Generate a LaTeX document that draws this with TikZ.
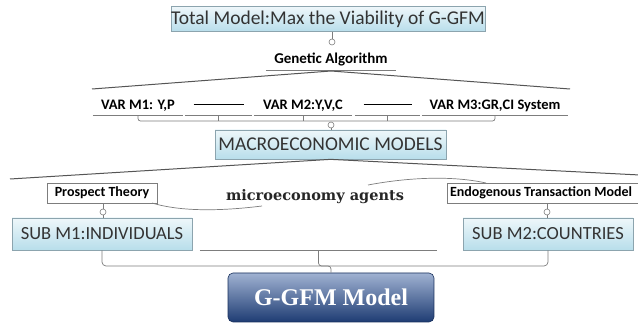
\documentclass[tikz,border=0pt]{standalone}
\usepackage{fontspec}
\setmainfont{Carlito}
\newfontfamily\slabfont{DejaVu Serif}
\newfontfamily\titleserif{Liberation Serif}
\definecolor{tTop}{RGB}{238,247,250}
\definecolor{tBot}{RGB}{184,222,235}
\definecolor{tBorder}{RGB}{140,164,174}
\definecolor{gTop}{RGB}{160,178,210}
\definecolor{gBot}{RGB}{30,60,115}
\definecolor{lineC}{RGB}{125,125,125}
\definecolor{fanC}{RGB}{85,85,85}
\tikzset{
  topic/.style={draw=tBorder, line width=0.7pt, top color=tTop, bottom color=tBot, inner sep=0pt, text=black!80},
  plainbox/.style={draw=lineC, line width=0.6pt, fill=white, inner sep=0pt, font=\bfseries\fontsize{14}{14}\selectfont, text=black},
  lbl/.style={inner sep=0pt, font=\bfseries\fontsize{14.5}{14.5}\selectfont, text=black},
  underl/.style={append after command={\pgfextra{\draw[conn] (\tikzlastnode.south west) -- (\tikzlastnode.south east);}}},
  conn/.style={draw=lineC, line width=0.7pt},
  fan/.style={draw=fanC, line width=1pt},
  dotc/.style={circle, draw=lineC, fill=white, line width=0.6pt, inner sep=0pt, minimum size=6pt},
}
\begin{document}
\begin{tikzpicture}[x=1pt,y=-1pt]
\useasboundingbox (0,0) rectangle (638,323);
\fill[white] (0,0) rectangle (638,323);

% top
\node[topic, minimum width=306, minimum height=25, font=\fontsize{19.5}{19.5}\selectfont] (total) at (328,19) {Total Model:Max the Viability of G-GFM};
\node[dotc] (c1) at (332,42) {};
\draw[conn] (total.south -| c1) -- (c1);
\node[lbl, underl, minimum width=130, minimum height=22, font=\bfseries\fontsize{15}{15}\selectfont] (ga) at (331,59) {Genetic Algorithm};

% fan 1
\coordinate (f1) at (331,71);
\coordinate (f1l) at (92,89);
\coordinate (f1r) at (570,89);
\draw[fan] (f1l) -- (f1) -- (f1r);

% VAR row
\node[lbl, underl, minimum width=90, minimum height=18] (v1) at (138,106) {VAR M1: Y,P};
\node[lbl, underl, minimum width=67, minimum height=18] (d1) at (218.5,106) {\rule[3pt]{50pt}{0.7pt}};
\node[lbl, underl, minimum width=98, minimum height=18] (v2) at (303,106) {VAR M2:Y,V,C};
\node[lbl, underl, minimum width=65, minimum height=18] (d2) at (387.5,106) {\rule[3pt]{48pt}{0.7pt}};
\node[lbl, underl, minimum width=146, minimum height=18] (v3) at (495,106) {VAR M3:GR,CI System};
\coordinate (b1) at (0,121);
\draw[conn, rounded corners=2.5] (v1.south) -- (v1.south |- b1) -- (v3.south |- b1) -- (v3.south);
\draw[conn] (d1.south) -- (d1.south |- b1);
\draw[conn] (v2.south) -- (v2.south |- b1);
\draw[conn] (d2.south) -- (d2.south |- b1);

% macro
\node[topic, minimum width=231, minimum height=29, font=\fontsize{19.5}{19.5}\selectfont] (macro) at (330.5,144.5) {MACROECONOMIC MODELS};
\node[dotc] (c2) at (331,125) {};
\draw[conn] (c2) -- (macro.north -| c2);

% fan 2
\coordinate (f2l) at (10,179);
\coordinate (f2r) at (640,175);
\draw[fan] (f2l) -- (macro.south) -- (f2r);

% side theories
\node[plainbox, minimum width=110, minimum height=20] (pt) at (102,193) {Prospect Theory};
\node[plainbox, minimum width=200, minimum height=20] (et) at (547,193) {\makebox[194pt][l]{Endogenous Transaction Model}};
\node[dotc] (c3) at (103,212) {};
\node[dotc] (c4) at (547,212) {};

% sub models
\node[topic, minimum width=180, minimum height=32, font=\fontsize{18.5}{18.5}\selectfont] (sub1) at (102,234) {SUB M1:INDIVIDUALS};
\node[topic, minimum width=170, minimum height=32, font=\fontsize{18.5}{18.5}\selectfont] (sub2) at (548,234) {SUB M2:COUNTRIES};
\draw[conn] (pt.south -| c3) -- (c3) -- (sub1.north -| c3);
\draw[conn] (et.south -| c4) -- (c4) -- (sub2.north -| c4);

% microeconomy agents relation
\node[inner sep=0pt, font=\slabfont\bfseries\fontsize{14.5}{14.5}\selectfont, text=black!85] (mic) at (315,197) {microeconomy agents};
\coordinate (r1) at (262,206);
\coordinate (r2) at (368,185);
\coordinate (r0) at (152,203);
\coordinate (r3) at (486,183);
\draw[conn] (r0) .. controls (185,213) and (230,210) .. (r1);
\draw[conn] (r2) .. controls (405,178) and (450,175) .. (r3);

% blank underline topic
\node[inner sep=0pt, minimum width=237, minimum height=0pt, underl] (blank) at (318.5,250) {};

% bottom bracket
\coordinate (b2) at (0,266);
\node[draw=gBot!80!black, line width=0.6pt, rounded corners=5pt, top color=gTop, bottom color=gBot, minimum width=206, minimum height=49, inner sep=0pt, text=white, font=\titleserif\bfseries\fontsize{24}{24}\selectfont] (gg) at (331,297.5) {G-GFM Model};
\draw[conn, rounded corners=4] (sub1.south) -- (sub1.south |- b2) -- (sub2.south |- b2) -- (sub2.south);
\draw[conn, rounded corners=3] (blank.south) -- (blank.south |- b2) -- (gg.north |- b2) -- (gg.north);
\end{tikzpicture}
\end{document}
